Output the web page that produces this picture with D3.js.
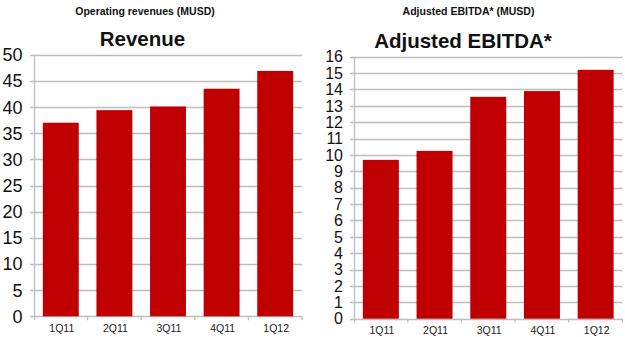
<!DOCTYPE html>
<html>
<head>
<meta charset="utf-8">
<script src="https://cdn.jsdelivr.net/npm/d3@7"></script>
<style>
  html, body { margin: 0; padding: 0; background: #fff; }
  svg { display: block; font-family: "Liberation Sans", Arial, sans-serif; }
</style>
</head>
<body>
<svg id="chart" width="625" height="337"></svg>
<script>
// Quarterly figures (MUSD)
const quarters = ["1Q11", "2Q11", "3Q11", "4Q11", "1Q12"];
const revenue = [37.0, 39.4, 40.1, 43.5, 46.9];
const ebitda = [9.7, 10.25, 13.55, 13.9, 15.2];
const revenueTicks = [0, 5, 10, 15, 20, 25, 30, 35, 40, 45, 50];
const ebitdaTicks = [0, 1, 2, 3, 4, 5, 6, 7, 8, 9, 10, 11, 12, 13, 14, 15, 16];

const svg = d3.select("#chart");
const BAR = "#c00000";
const GRID = "#bdbdbd";

function panel(cfg) {
  const g = svg.append("g");
  const x = d3.scaleBand().domain(quarters).range([cfg.x0, cfg.x1])
    .paddingInner(0.33).paddingOuter(0.165);
  const y = d3.scaleLinear().domain([0, cfg.max]).range([cfg.y0, cfg.y1]);

  // horizontal gridlines with short outward ticks
  g.append("g").selectAll("line").data(cfg.ticks).join("line")
    .attr("x1", cfg.x0 - 4).attr("x2", cfg.x1)
    .attr("y1", d => Math.round(y(d)) + 0.5).attr("y2", d => Math.round(y(d)) + 0.5)
    .attr("stroke", GRID).attr("stroke-width", 1.3);

  // bars
  g.append("g").selectAll("rect").data(cfg.values).join("rect")
    .attr("x", (d, i) => x(quarters[i]))
    .attr("width", x.bandwidth())
    .attr("y", d => y(d))
    .attr("height", d => y(0) - y(d))
    .attr("fill", BAR);

  // value axis line
  g.append("line")
    .attr("x1", cfg.x0 + 0.5).attr("x2", cfg.x0 + 0.5)
    .attr("y1", y(cfg.max)).attr("y2", y(0) + 4)
    .attr("stroke", GRID).attr("stroke-width", 1.3);

  // category separators below the baseline
  g.append("g").selectAll("line").data(d3.range(1, quarters.length + 1)).join("line")
    .attr("x1", i => cfg.x0 + i * (cfg.x1 - cfg.x0) / quarters.length)
    .attr("x2", i => cfg.x0 + i * (cfg.x1 - cfg.x0) / quarters.length)
    .attr("y1", y(0)).attr("y2", y(0) + 4)
    .attr("stroke", GRID).attr("stroke-width", 1.3);

  // value tick labels
  g.append("g").selectAll("text").data(cfg.ticks).join("text")
    .attr("x", cfg.labelX).attr("y", d => y(d))
    .attr("dy", "0.36em")
    .attr("text-anchor", "end")
    .attr("font-size", cfg.tickFont)
    .attr("fill", "#111")
    .text(d => d);

  // category labels
  g.append("g").selectAll("text").data(quarters).join("text")
    .attr("x", d => x(d) + x.bandwidth() / 2 + 1)
    .attr("y", cfg.catY)
    .attr("text-anchor", "middle")
    .attr("font-size", 10.5)
    .attr("fill", "#222")
    .text(d => d);

  // headings
  g.append("text").attr("x", cfg.subX).attr("y", 15)
    .attr("text-anchor", "middle").attr("font-size", 10.5).attr("font-weight", "bold")
    .attr("fill", "#111").text(cfg.subtitle);
  g.append("text").attr("x", cfg.titleX).attr("y", cfg.titleY)
    .attr("text-anchor", "middle").attr("font-size", 20.5).attr("font-weight", "bold")
    .attr("fill", "#111").text(cfg.title);
}

panel({
  values: revenue, ticks: revenueTicks, max: 50,
  x0: 34, x1: 302, y0: 316.3, y1: 54.7,
  labelX: 22.5, tickFont: 18, catY: 332,
  subtitle: "Operating revenues (MUSD)", subX: 145,
  title: "Revenue", titleX: 142.5, titleY: 46
});

panel({
  values: ebitda, ticks: ebitdaTicks, max: 16,
  x0: 354, x1: 622.5, y0: 318.7, y1: 56.7,
  labelX: 343, tickFont: 16, catY: 334,
  subtitle: "Adjusted EBITDA* (MUSD)", subX: 468.5,
  title: "Adjusted EBITDA*", titleX: 463, titleY: 48
});
</script>
</body>
</html>
